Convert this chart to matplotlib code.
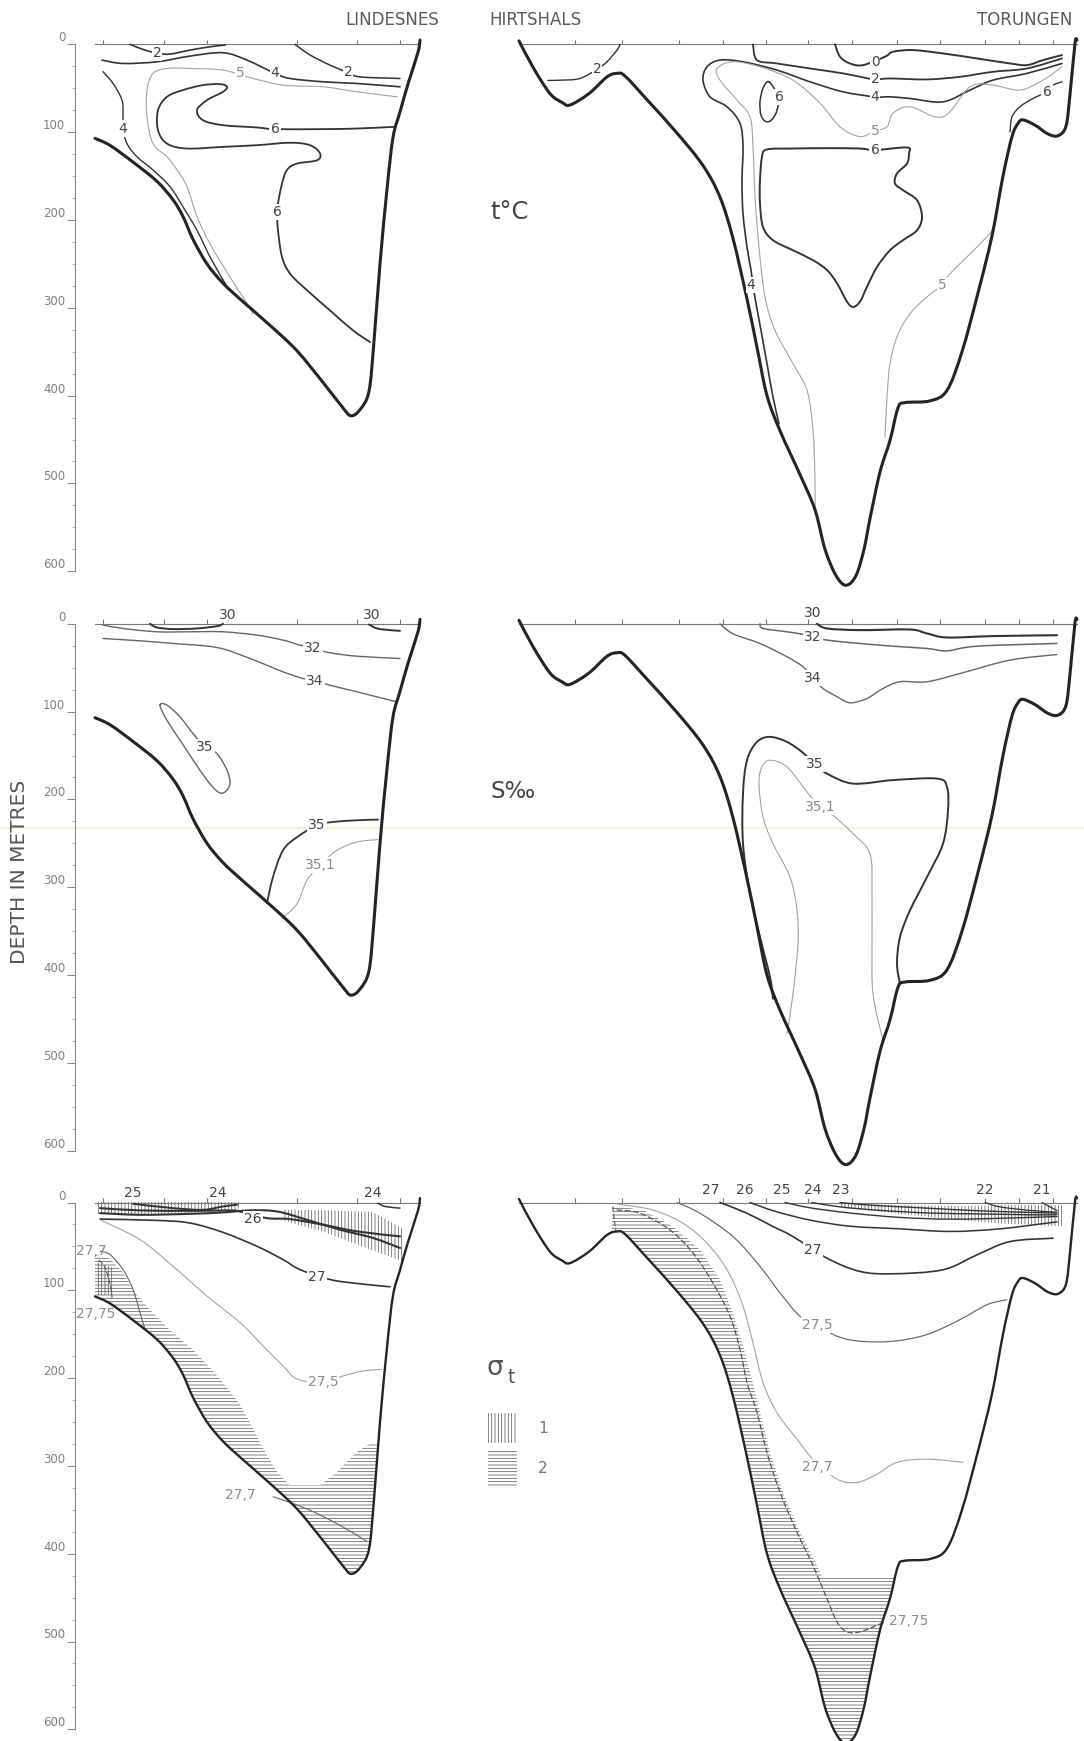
import numpy as np
import matplotlib
matplotlib.use("Agg")
import matplotlib.pyplot as plt
from matplotlib.path import Path
from matplotlib.patches import PathPatch, Polygon, Rectangle
from matplotlib.lines import Line2D

plt.rcParams['font.family'] = ['DejaVu Sans']
plt.rcParams['hatch.linewidth'] = 0.55

# ------------------------------------------------------------------ data
# x: distance along the drawing (arbitrary units), z: depth in metres
STATIONS = ['LINDESNES', 'HIRTSHALS', 'TORUNGEN']
STATION_X = [392, 535, 1025]
DEPTH_TICKS = [0, 100, 200, 300, 400, 500, 600]
LEFT_SURF = [95, 420]
RIGHT_SURF = [519, 1077]
LEFT_STATION_TICKS = [103, 164, 207, 297, 357, 400]
RIGHT_STATION_TICKS = [575, 622, 679, 723, 766, 808, 852, 897, 940, 985, 1019, 1053]

# bottom profiles
LEFT_BOTTOM_X = [95, 110, 133, 157, 173, 183, 193, 207, 223, 243, 270, 297, 323, 343, 351,
                 360, 369, 374, 380, 387, 393, 400, 408, 418, 420]
LEFT_BOTTOM_Z = [107, 115, 134, 156, 177, 196, 222, 250, 272, 293, 320, 349, 385, 414, 423,
                 416, 395, 338, 250, 165, 106, 77, 45, 9, -5]
RIGHT_BOTTOM_X = [519, 533, 550, 562, 570, 589, 607, 617, 625, 647, 677, 703, 720, 733, 747,
                  757, 767, 780, 800, 815, 825, 836, 846, 856, 864, 870, 880, 890, 898, 905,
                  930, 947, 962, 978, 992, 1003, 1012, 1018, 1023, 1035, 1048, 1058, 1066,
                  1070, 1075, 1077]
RIGHT_BOTTOM_Z = [-4, 26, 56, 66, 69, 56, 37, 33, 36, 63, 101, 138, 174, 221, 290,
                  345, 400, 440, 490, 530, 575, 605, 616, 605, 575, 540, 487, 451, 414, 408,
                  406, 394, 350, 283, 218, 150, 105, 90, 86, 92, 102, 104, 93,
                  57, -1, -5]

# ---- temperature, left section
T_L_2A_X = [130, 143, 157, 170, 190, 210, 225]
T_L_2A_Z = [0, 5.7, 10, 11, 6.5, 2.7, 0.8]
T_L_4A_X = [102, 123, 157, 190, 223, 247, 275, 290, 323, 357, 400]
T_L_4A_Z = [17.9, 21.7, 19.8, 13.3, 9.5, 17.9, 33, 38.8, 42.6, 44.5, 48.3]
T_L_2B_X = [295, 310, 330, 348, 360, 400]
T_L_2B_Z = [0, 12, 23.6, 32, 37, 38.8]
T_L_5_X = [397, 357, 323, 283, 247, 223, 190, 167, 153, 147, 147, 153, 167, 177, 187, 197,
           210, 230, 247, 253]
T_L_5_Z = [59.7, 54, 48.3, 46.4, 36.9, 29.3, 27.4, 27.4, 33, 52, 82.5, 113, 128, 143, 162,
           196, 227, 265, 295, 307]
T_L_6_X = [395, 357, 323, 275, 257, 223, 203, 197, 207, 223, 227, 220, 203, 183, 167, 158,
           158, 167, 187, 223, 257, 290, 310, 320, 317, 297, 287, 282, 278, 277, 278, 282,
           290, 307, 330, 353, 370]
T_L_6_Z = [93.9, 95.8, 96.5, 96.5, 94.6, 92, 86.3, 74.9, 63.5, 54, 48.3, 45.2, 46.4, 52,
           59.7, 74.9, 97.7, 113, 118.6, 116.7, 114.8, 112, 114.8, 124, 132, 135.7, 143,
           158.5, 181, 190.8, 211.7, 242, 261, 280, 303, 325.7, 339]
T_L_4B_X = [103, 113, 122, 123, 123, 127, 137, 153, 170, 183, 197, 210, 227]
T_L_4B_Z = [31, 44.5, 63.5, 82.5, 95.8, 113, 128, 143, 162, 185, 211.7, 242, 276]

# ---- temperature, right section
T_R_2A_X = [548, 562, 580, 597, 607, 617, 620]
T_R_2A_Z = [41, 40.7, 38.8, 28.4, 19.8, 6.5, 0]
T_R_0_X = [835, 840, 850, 863, 885, 893, 913, 943, 977, 1010, 1027, 1043, 1062]
T_R_0_Z = [0, 14, 21.7, 23.6, 14, 8.4, 6.5, 10.3, 16, 21.7, 23.6, 17.9, 12.2]
T_R_2B_X = [753, 757, 777, 810, 843, 860, 875, 890, 927, 960, 993, 1027, 1062]
T_R_2B_Z = [0, 17.9, 21.7, 27.4, 33, 36.9, 39.9, 38.8, 39.9, 36.9, 31.2, 27.4, 16]
T_R_4_X = [1062, 1027, 993, 970, 943, 910, 890, 875, 843, 810, 777, 743, 720, 707, 703, 710,
           727, 740, 743, 742, 743, 747, 751, 753, 756, 761, 767, 773, 779]
T_R_4_Z = [21.7, 33, 40.7, 52, 65.4, 61.6, 59.7, 59.7, 54, 42.6, 29.3, 19.8, 17.9, 25.5,
           40.7, 59.7, 71, 90, 116.7, 154.7, 192.7, 230.7, 257, 274, 295, 325.7, 363.7,
           401.7, 432]
T_R_5A_X = [1062, 1043, 1020, 993, 970, 943, 910, 893, 887, 875, 860, 840, 820, 793, 760,
            733, 717, 720, 737, 750, 753, 755, 759, 765, 775, 793, 807, 813, 815, 815]
T_R_5A_Z = [25.5, 40.7, 52, 46.4, 48.3, 82.5, 71, 78.6, 93.9, 98.4, 105, 93.9, 67, 40.7,
            25.5, 19.8, 27.4, 40.7, 63.5, 82.5, 116.7, 173.7, 230.7, 287.6, 325.7, 363.7,
            394, 439.7, 496.7, 535]
T_R_6S_X = [769, 763, 760, 761, 766, 772, 777, 778]
T_R_6S_Z = [42.6, 50, 65.4, 80.5, 88, 85.5, 74.9, 59.5]
T_R_6B_X = [875, 907, 909, 907, 897, 895, 903, 917, 922, 917, 903, 890, 877, 867, 860, 853,
            847, 837, 827, 813, 793, 773, 763, 760, 760, 762, 767, 793, 827, 860]
T_R_6B_Z = [120.3, 117.4, 124, 135.7, 147, 158.5, 166, 177.5, 196.5, 211.7, 223, 234.5,
            253.5, 276, 293, 299, 293, 272, 257, 245.8, 234.5, 223, 207.9, 181, 154.7, 128,
            119.7, 118.6, 118.2, 118.6]
T_R_6C_X = [1010, 1012, 1020, 1033, 1047, 1053, 1062]
T_R_6C_Z = [99.6, 82.5, 71, 61.6, 53.9, 46.4, 42.6]
T_R_5B_X = [993, 977, 960, 947, 942, 927, 910, 897, 890, 887, 885]
T_R_5B_Z = [211.7, 230.7, 249.7, 265, 274, 287.6, 306.7, 333, 363.7, 401.7, 447]

# ---- salinity, left section
S_L_30A_X = [150, 157, 173, 197, 217, 223]
S_L_30A_Z = [0, 4.2, 6, 5.3, 2.7, 0]
S_L_30B_X = [369, 377, 390, 400]
S_L_30B_Z = [0.8, 5.3, 7.2, 8]
S_L_32_X = [103, 123, 157, 190, 223, 257, 283, 300, 313, 330, 357, 400]
S_L_32_Z = [1.5, 5.3, 9.1, 9.1, 9.1, 12.9, 18.6, 24.3, 28, 33, 36.9, 39.5]
S_L_34_X = [103, 140, 173, 217, 250, 283, 303, 315, 330, 357, 397]
S_L_34_Z = [16.7, 19.4, 22.4, 27, 39.5, 54.7, 62.3, 65, 70, 77.5, 89]
S_L_35A_X = [160, 167, 180, 193, 205, 217, 227, 230, 225, 218, 207, 193, 180, 167]
S_L_35A_Z = [92.7, 92.7, 106, 125, 140, 147.9, 166.8, 182, 191.5, 191.5, 178, 155, 132.5, 110]
S_L_35B_X = [267, 273, 283, 297, 317, 333, 357, 378]
S_L_35B_Z = [318, 288.4, 258, 243, 229.5, 225.7, 223.8, 223]
S_L_351_X = [282, 297, 307, 320, 337, 357, 378]
S_L_351_Z = [336, 318.8, 292, 275, 258, 248.5, 245.8]

# ---- salinity, right section
S_R_30_X = [817, 827, 860, 910, 927, 947, 993, 1057]
S_R_30_Z = [0, 5.3, 7.2, 6.5, 11, 15.6, 14, 13]
S_R_32_X = [760, 763, 787, 802, 813, 827, 860, 893, 927, 947, 977, 1057]
S_R_32_Z = [0, 5.3, 9.1, 11.8, 14.8, 18.6, 22.4, 25.5, 28.1, 30.8, 25.5, 22.4]
S_R_34_X = [720, 733, 760, 787, 803, 813, 823, 837, 850, 867, 883, 900, 927, 960, 1010, 1057]
S_R_34_Z = [0, 11.4, 22.4, 37.6, 49, 62, 73.7, 83, 90, 85, 73.7, 66, 66, 56.6, 41.4, 35]
S_R_35_X = [773, 770, 760, 750, 743, 743, 747, 757, 770, 787, 802, 815, 827, 853, 893, 937,
            947, 948, 943, 927, 910, 900, 897, 900]
S_R_35_Z = [427, 402.4, 356.8, 307.4, 250.4, 193.4, 155.4, 134.5, 128.8, 134.5, 146, 160,
            170.6, 182, 178, 176.3, 185.8, 212.4, 250.4, 288.4, 326.4, 356.8, 387.2, 410]
S_R_351_X = [787, 793, 798, 797, 790, 773, 763, 759, 762, 770, 787, 807, 820, 833, 853, 870,
             872, 872, 873, 883]
S_R_351_Z = [467, 421.4, 364.4, 326.4, 288.4, 250.4, 220, 182, 163, 155.4, 163, 191.5,
             208.6, 218, 239, 262, 307.4, 364.4, 421.4, 474.6]

# ---- sigma-t, left section
D_L_25_X = [133, 173, 203, 223, 237]
D_L_25_Z = [1.5, 6.4, 8.3, 4.5, 2.6]
D_L_26_X = [100, 140, 190, 230, 240, 267, 290, 323, 357, 400]
D_L_26_Z = [6.4, 9, 9.5, 9, 10.2, 17.8, 18.9, 25.3, 32.9, 38.6]
D_L_26B_X = [100, 140, 190, 223, 250, 277, 307, 340, 373, 400]
D_L_26B_Z = [12.1, 14, 12.9, 11.3, 9, 10.2, 19.7, 31, 40.4, 51.8]
D_L_24_X = [378, 385, 400]
D_L_24_Z = [0.8, 4.5, 6.4]
D_L_27_X = [100, 157, 190, 223, 257, 283, 300, 330, 357, 390]
D_L_27_Z = [18.9, 20.4, 23.4, 34, 49.9, 65, 76.4, 87.7, 92.2, 96]
D_L_275_X = [100, 140, 173, 207, 240, 263, 283, 297, 323, 343, 363, 382]
D_L_275_Z = [19.7, 42.3, 72.6, 106.6, 136.8, 163.3, 186, 201, 205, 197.6, 191.9, 190]
D_L_277A_X = [100, 110, 123, 133, 140, 145]
D_L_277A_Z = [55.6, 59.3, 76.4, 99, 125.5, 144.4]
D_L_277B_X = [273, 307, 340, 367]
D_L_277B_Z = [335, 349, 367.7, 386]
D_L_2775_X = [99, 104, 108, 111, 112]
D_L_2775_Z = [66, 72, 84, 98, 108]
H2_L_X = [90, 97, 110, 123, 135, 150, 165, 180, 195, 210, 225, 240, 252, 263, 277, 290,
          320, 337, 357, 368, 378, 430, 430, 90]
H2_L_Z = [60, 60, 64, 80, 103, 122, 140, 155, 170, 188, 208, 230, 255, 280, 307, 322,
          322, 307, 284, 276, 273, 273, 700, 700]
H1_LA_X = [96, 240, 240, 190, 140, 96]
H1_LA_Z = [0.5, 0.5, 7, 12, 13, 13]
H1_LB_X = [283, 323, 357, 373, 403, 403, 357, 323, 290, 283]
H1_LB_Z = [8, 9, 10, 11, 30, 67, 48, 33, 23, 20]
H1_LC_X = [97, 112, 114, 97]
H1_LC_Z = [68, 74, 105, 105]

# ---- sigma-t, right section
D_R_27_X = [720, 747, 773, 793, 827, 860, 893, 943, 977, 1010, 1053]
D_R_27_Z = [0, 12.3, 27.4, 38.8, 63.4, 78.5, 81.2, 76.6, 59.6, 44.5, 40.7]
D_R_275_X = [677, 700, 733, 760, 780, 800, 817, 837, 860, 893, 927, 960, 987, 1007]
D_R_275_Z = [0, 12.3, 38.8, 72.8, 103, 129.6, 139, 152.3, 158, 158, 150.4, 133.4, 116.4, 110.7]
D_R_277_X = [618, 623, 653, 683, 707, 727, 742, 753, 763, 777, 797, 813, 837, 857, 877, 897,
             927, 963]
D_R_277_Z = [2, 2.8, 8.5, 23.6, 46.4, 76.6, 114.5, 160, 205, 239.4, 269.6, 292.3, 315,
             318.8, 309.4, 296, 292.3, 296]
D_R_2775_X = [617, 640, 670, 693, 713, 730, 740, 747, 757, 767, 780, 797, 813, 827, 837, 847,
              860, 877, 885]
D_R_2775_Z = [8.5, 12.3, 31.2, 57.7, 91.8, 129.6, 167.4, 205, 239.4, 284.8, 330, 375.6,
              413.5, 451.4, 477.8, 489, 489, 481.5, 477.8]
D_R_2775B_X = [613, 614, 616]
D_R_2775B_Z = [5, 18, 32]
D_R_26_X = [750, 775, 810, 850, 900, 950, 1000, 1057]
D_R_26_Z = [0, 10, 20, 27, 30, 33, 30, 22]
D_R_25_X = [785, 810, 850, 900, 950, 1000, 1057]
D_R_25_Z = [0, 6, 12, 17, 19, 18, 16]
D_R_24_X = [812, 840, 880, 930, 980, 1030, 1057]
D_R_24_Z = [0, 5, 9, 12, 13, 14, 14]
D_R_23_X = [840, 870, 920, 970, 1020, 1057]
D_R_23_Z = [0, 3, 6, 9, 11, 12]
D_R_22_X = [985, 1000, 1030, 1057]
D_R_22_Z = [0, 5, 9, 11]
D_R_21_X = [1042, 1050, 1057]
D_R_21_Z = [0, 5, 9]
D_R_TOP_LABELS = ['27', '26', '25', '24', '23', '22', '21']
D_R_TOP_LABEL_X = [711, 745, 782, 813, 841, 985, 1042]
H2_R_X = [612, 617, 643, 673, 700, 720, 733, 743, 752, 760, 770, 783, 800, 817, 823, 893,
          915, 915, 612]
H2_R_Z = [4, 4.7, 8.5, 27.4, 54, 88, 126, 163.6, 201.5, 239.4, 284.8, 330, 375.6, 413.5,
          428.5, 428.5, 428.5, 700, 700]
H1_R_X = [840, 900, 960, 1000, 1062, 1062, 1000, 960, 900, 840]
H1_R_Z = [1, 3, 4, 3, 3, 27, 24, 20, 13, 5]

# ------------------------------------------------------------------ layout
FIG_W, FIG_H = 1084, 1741
ROW_SURFACE_PX = [44.4, 623.8, 1202.5]
ROW_BANDS = [(0, 590), (590, 1170), (1170, 1741)]
PX_PER_M = 0.878

DARK = '#333333'
MID = '#666666'
LIGHT = '#a3a3a3'
BOTTOM_C = '#242424'
HATCH_C = '#5e5e5e'
TXT = '#444444'
TXT_L = '#8c8c8c'

fig = plt.figure(figsize=(FIG_W / 100, FIG_H / 100), dpi=100, facecolor='white')


def smooth_verts(xs, zs, closed=False):
    p = np.column_stack([xs, zs]).astype(float)
    n = len(p)
    if closed:
        P = np.vstack([p[-1], p, p[0], p[1]])
        segs = range(1, n + 1)
    else:
        P = np.vstack([p[0], p, p[-1]])
        segs = range(1, n)
    verts = [tuple(P[1])]
    codes = [Path.MOVETO]
    for i in segs:
        p0, p1, p2, p3 = P[i - 1], P[i], P[i + 1], P[i + 2]
        verts += [tuple(p1 + (p2 - p0) / 6.0), tuple(p2 - (p3 - p1) / 6.0), tuple(p2)]
        codes += [Path.CURVE4] * 3
    return verts, codes


def curve(ax, xs, zs, color=DARK, lw=1.3, ls='-', closed=False, z=3):
    v, c = smooth_verts(xs, zs, closed)
    ax.add_patch(PathPatch(Path(v, c), fill=False, edgecolor=color, lw=lw, linestyle=ls,
                           capstyle='round', joinstyle='round', zorder=z))


def water(ax, bx, bz):
    v, c = smooth_verts(bx, bz)
    verts = [(bx[0], -6)] + v + [(bx[-1], -6), (bx[0], -6)]
    codes = [Path.MOVETO, Path.LINETO] + c[1:] + [Path.LINETO, Path.CLOSEPOLY]
    return PathPatch(Path(verts, codes), transform=ax.transData)


def hatch(ax, hx, hz, pattern, clip):
    p = Polygon(np.column_stack([hx, hz]), closed=True, fill=False, edgecolor=HATCH_C,
                lw=0, hatch=pattern, zorder=1)
    ax.add_patch(p)
    p.set_clip_path(clip)


def label(ax, x, z, s, color=TXT, size=10, box=True, ha='center'):
    kw = dict(ha=ha, va='center', fontsize=size, color=color, zorder=6)
    if box:
        kw['bbox'] = dict(boxstyle='square,pad=0.08', fc='white', ec='none')
    ax.text(x, z, s, **kw)


axes = []
for (top, bot), y0 in zip(ROW_BANDS, ROW_SURFACE_PX):
    ax = fig.add_axes([0, 1 - bot / FIG_H, 1, (bot - top) / FIG_H])
    ax.set_xlim(0, FIG_W)
    ax.set_ylim((bot - y0) / PX_PER_M, (top - y0) / PX_PER_M)
    ax.patch.set_alpha(0)
    for s in ['top', 'right', 'bottom']:
        ax.spines[s].set_visible(False)
    ax.spines['left'].set_position(('data', 75))
    ax.spines['left'].set_bounds(0, 600)
    ax.spines['left'].set_color('#8c8c8c')
    ax.spines['left'].set_linewidth(0.8)
    ax.set_xticks([])
    ax.set_yticks(DEPTH_TICKS)
    ax.set_yticks(np.arange(0, 601, 25), minor=True)
    ax.tick_params(axis='y', which='major', length=6, width=0.8, color='#8c8c8c',
                   labelsize=8.5, labelcolor='#808080', pad=1)
    ax.tick_params(axis='y', which='minor', length=2, width=0.6, color='#a0a0a0')
    plt.setp(ax.get_yticklabels(), va='bottom')
    # sea surface + station marks
    ax.plot(LEFT_SURF, [0, 0], color='#777777', lw=0.8, zorder=2)
    ax.plot(RIGHT_SURF, [0, 0], color='#777777', lw=0.8, zorder=2)
    ax.vlines(LEFT_STATION_TICKS + RIGHT_STATION_TICKS, -5, 0, color='#777777', lw=0.8, zorder=2)
    axes.append(ax)

ax1, ax2, ax3 = axes
bw = [2.2, 2.2, 1.7]
for ax, w in zip(axes, bw):
    curve(ax, LEFT_BOTTOM_X, LEFT_BOTTOM_Z, color=BOTTOM_C, lw=w, z=4)
    curve(ax, RIGHT_BOTTOM_X, RIGHT_BOTTOM_Z, color=BOTTOM_C, lw=w, z=4)

# station names
for name, x in zip(STATIONS, STATION_X):
    ax1.text(x, -28, name, ha='center', va='center', fontsize=12, color='#5a5a5a')

fig.text(20 / FIG_W, 1 - 872 / FIG_H, 'DEPTH IN METRES', rotation=90, ha='center',
         va='center', fontsize=14.5, color='#555555')

# ------------------------------------------------------------------ row 1: temperature
for xs, zs, c, w in [
    (T_L_2A_X, T_L_2A_Z, DARK, 1.2), (T_L_4A_X, T_L_4A_Z, DARK, 1.2),
    (T_L_2B_X, T_L_2B_Z, DARK, 1.1), (T_L_5_X, T_L_5_Z, LIGHT, 0.8),
    (T_L_6_X, T_L_6_Z, DARK, 1.3), (T_L_4B_X, T_L_4B_Z, DARK, 1.0),
    (T_R_2A_X, T_R_2A_Z, DARK, 1.0), (T_R_0_X, T_R_0_Z, DARK, 1.4),
    (T_R_2B_X, T_R_2B_Z, DARK, 1.3), (T_R_4_X, T_R_4_Z, DARK, 1.2),
    (T_R_5A_X, T_R_5A_Z, LIGHT, 0.8), (T_R_6C_X, T_R_6C_Z, DARK, 1.0),
    (T_R_5B_X, T_R_5B_Z, LIGHT, 0.8)]:
    curve(ax1, xs, zs, color=c, lw=w)
curve(ax1, T_R_6S_X, T_R_6S_Z, color=DARK, lw=1.1, closed=True)
curve(ax1, T_R_6B_X, T_R_6B_Z, color=DARK, lw=1.4, closed=True)
for x, z, s, c in [(157, 10, '2', TXT), (275, 33, '4', TXT), (240, 33, '5', TXT_L),
                   (348, 32, '2', TXT), (275, 96.5, '6', TXT), (277, 190.8, '6', TXT),
                   (123, 95.8, '4', TXT),
                   (597, 28.4, '2', TXT), (875, 20.5, '0', TXT), (875, 39.9, '2', TXT),
                   (875, 59.5, '4', TXT), (875, 98.4, '5', TXT_L), (875, 120.3, '6', TXT),
                   (779, 60, '6', TXT), (1047, 53.9, '6', TXT), (751, 274, '4', TXT),
                   (942, 274, '5', TXT_L)]:
    label(ax1, x, z, s, color=c)
ax1.text(490, 191, 't°C', ha='left', va='center', fontsize=17.5, color='#444444')

# ------------------------------------------------------------------ row 2: salinity
for xs, zs, c, w in [
    (S_L_30A_X, S_L_30A_Z, DARK, 1.4), (S_L_30B_X, S_L_30B_Z, DARK, 1.4),
    (S_L_32_X, S_L_32_Z, MID, 1.0), (S_L_34_X, S_L_34_Z, MID, 1.0),
    (S_L_35B_X, S_L_35B_Z, DARK, 1.3), (S_L_351_X, S_L_351_Z, LIGHT, 0.8),
    (S_R_30_X, S_R_30_Z, DARK, 1.5), (S_R_32_X, S_R_32_Z, MID, 1.1),
    (S_R_34_X, S_R_34_Z, MID, 1.0), (S_R_35_X, S_R_35_Z, DARK, 1.4),
    (S_R_351_X, S_R_351_Z, LIGHT, 0.8)]:
    curve(ax2, xs, zs, color=c, lw=w)
curve(ax2, S_L_35A_X, S_L_35A_Z, color=MID, lw=1.0, closed=True)
for x, z, s, c, b in [(228, -10, '30', TXT, False), (372, -10, '30', TXT, False),
                      (313, 28, '32', TXT, True), (315, 65, '34', TXT, True),
                      (205, 140, '35', TXT, True), (317, 229.5, '35', TXT, True),
                      (320, 275, '35,1', TXT_L, True),
                      (813, -12, '30', TXT, False), (813, 14.8, '32', TXT, True),
                      (813, 62, '34', TXT, True), (815, 160, '35', TXT, True),
                      (820, 208.6, '35,1', TXT_L, True)]:
    label(ax2, x, z, s, color=c, box=b)
ax2.text(490, 191, 'S‰', ha='left', va='center', fontsize=16.5, color='#444444')

# ------------------------------------------------------------------ row 3: sigma-t
wl = water(ax3, LEFT_BOTTOM_X, LEFT_BOTTOM_Z)
wr = water(ax3, RIGHT_BOTTOM_X, RIGHT_BOTTOM_Z)
hatch(ax3, H2_L_X, H2_L_Z, '-----', wl)
hatch(ax3, H1_LA_X, H1_LA_Z, '|||||', wl)
hatch(ax3, H1_LB_X, H1_LB_Z, '|||||', wl)
hatch(ax3, H1_LC_X, H1_LC_Z, '|||||', wl)
hatch(ax3, H2_R_X, H2_R_Z, '-----', wr)
hatch(ax3, H1_R_X, H1_R_Z, '|||||', wr)

DASH = (0, (4, 2.5))
for xs, zs, c, w, ls in [
    (D_L_25_X, D_L_25_Z, DARK, 1.4, '-'), (D_L_26_X, D_L_26_Z, DARK, 1.5, '-'),
    (D_L_26B_X, D_L_26B_Z, DARK, 1.5, '-'), (D_L_24_X, D_L_24_Z, DARK, 1.1, '-'),
    (D_L_27_X, D_L_27_Z, DARK, 1.2, '-'), (D_L_275_X, D_L_275_Z, LIGHT, 0.8, '-'),
    (D_L_277A_X, D_L_277A_Z, MID, 0.8, '-'), (D_L_277B_X, D_L_277B_Z, MID, 0.8, '-'),
    (D_L_2775_X, D_L_2775_Z, '#555555', 0.8, DASH),
    (D_R_27_X, D_R_27_Z, DARK, 1.2, '-'), (D_R_275_X, D_R_275_Z, MID, 0.85, '-'),
    (D_R_277_X, D_R_277_Z, LIGHT, 0.8, '-'), (D_R_2775_X, D_R_2775_Z, '#555555', 0.9, DASH),
    (D_R_2775B_X, D_R_2775B_Z, '#555555', 0.8, DASH),
    (D_R_26_X, D_R_26_Z, DARK, 1.1, '-'), (D_R_25_X, D_R_25_Z, DARK, 1.0, '-'),
    (D_R_24_X, D_R_24_Z, DARK, 1.0, '-'), (D_R_23_X, D_R_23_Z, DARK, 1.0, '-'),
    (D_R_22_X, D_R_22_Z, DARK, 0.9, '-'), (D_R_21_X, D_R_21_Z, DARK, 0.9, '-')]:
    curve(ax3, xs, zs, color=c, lw=w, ls=ls)

for x, z, s, c, b, ha in [(133, -11, '25', TXT, False, 'center'),
                          (218, -11, '24', TXT, False, 'center'),
                          (373, -11, '24', TXT, False, 'center'),
                          (253, 19, '26', TXT, True, 'center'),
                          (317, 84.7, '27', TXT, True, 'center'),
                          (323, 205, '27,5', TXT_L, True, 'center'),
                          (240, 333, '27,7', TXT_L, False, 'center'),
                          (76, 55, '27,7', TXT_L, False, 'left'),
                          (76, 127, '27,75', TXT_L, False, 'left'),
                          (813, 54, '27', TXT, True, 'center'),
                          (817, 139, '27,5', TXT_L, True, 'center'),
                          (817, 301, '27,7', TXT_L, True, 'center'),
                          (889, 477, '27,75', TXT_L, False, 'left')]:
    label(ax3, x, z, s, color=c, box=b, ha=ha)
for s, x in zip(D_R_TOP_LABELS, D_R_TOP_LABEL_X):
    label(ax3, x, -14, s, color=TXT, box=False)

# legend
ax3.text(487, 188, 'σ', ha='left', va='center', fontsize=19, color='#555555')
ax3.text(508, 199, 't', ha='left', va='center', fontsize=13.5, color='#555555')
ax3.add_patch(Rectangle((488, 240), 29, 34, fill=False, edgecolor=HATCH_C, lw=0,
                        hatch='|||||', zorder=1))
ax3.add_patch(Rectangle((488, 282), 29, 43, fill=False, edgecolor=HATCH_C, lw=0,
                        hatch='-----', zorder=1))
ax3.text(538, 257, '1', ha='left', va='center', fontsize=11, color='#777777')
ax3.text(538, 303, '2', ha='left', va='center', fontsize=11, color='#777777')

# faint scan streak
fig.add_artist(Line2D([0, 1], [1 - 828 / FIG_H] * 2, transform=fig.transFigure,
                      color='#eef4c4', lw=1.5, alpha=0.8, zorder=0))

fig.savefig('out.png', dpi=100, facecolor='white')
